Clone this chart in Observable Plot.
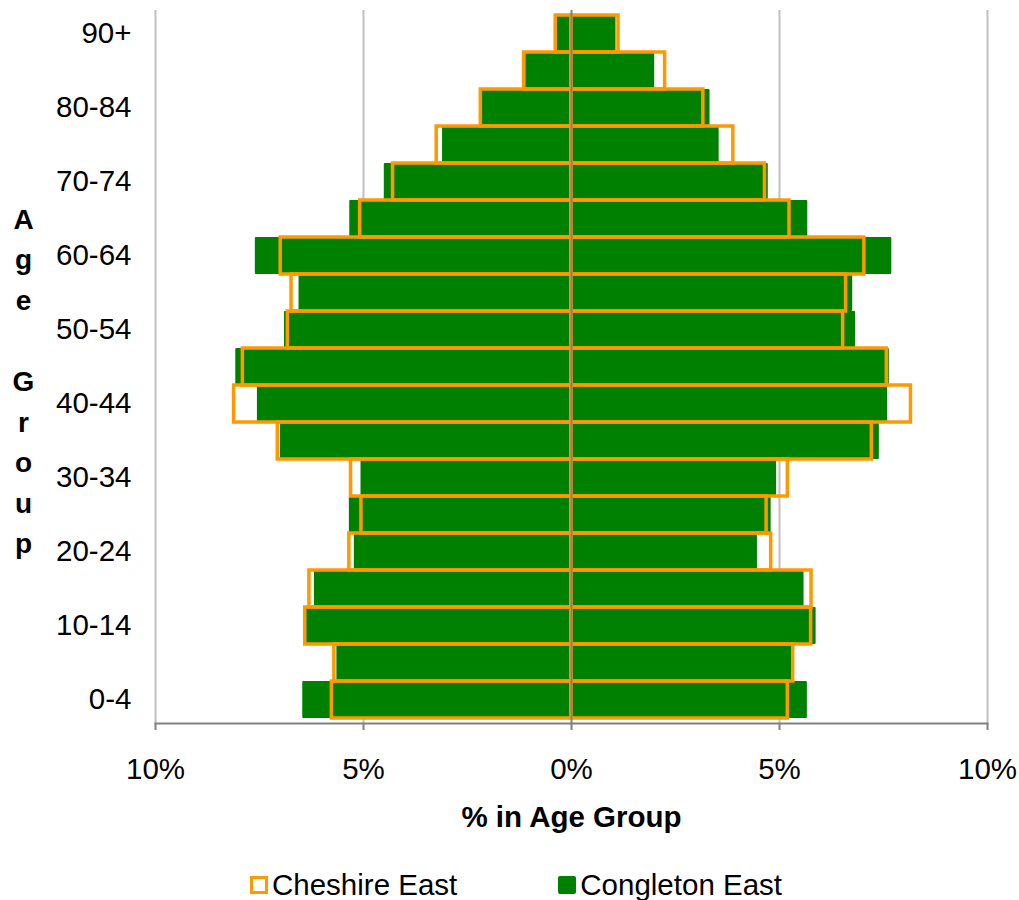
<!DOCTYPE html>
<html>
<head>
<meta charset="utf-8">
<script src="https://cdn.jsdelivr.net/npm/d3@7"></script>
<script src="https://cdn.jsdelivr.net/npm/@observablehq/plot@0.6"></script>
<style>
  html, body { margin: 0; padding: 0; background: #fff; }
  body { font-family: "Liberation Sans", Arial, sans-serif; width: 1019px; }
  #legend { display: flex; align-items: center; margin-top: 7px; padding-left: 250px; font-size: 29.5px; color: #000; line-height: 32px; }
  .item { display: flex; align-items: center; }
  .sw { width: 18px; height: 18px; box-sizing: border-box; margin-right: 4px; }
</style>
</head>
<body>
<div id="chart"></div>
<div id="legend">
  <div class="item"><div class="sw" style="border:3.5px solid #FF9900;background:#fff"></div><span>Cheshire East</span></div>
  <div class="item" style="margin-left:101px"><div class="sw" style="background:#008000;border-radius:2px"></div><span>Congleton East</span></div>
</div>
<script>
const ages = ["0-4","5-9","10-14","15-19","20-24","25-29","30-34","35-39","40-44","45-49","50-54","55-59","60-64","65-69","70-74","75-79","80-84","85-89","90+"];
// Values in %, bottom (0-4) to top (90+)
const congletonLeft  = [6.46,5.64,6.38,6.18,5.22,5.34,5.06,7.00,7.55,8.07,6.90,6.55,7.60,5.33,4.50,3.10,2.14,1.10,0.34];
const congletonRight = [5.67,5.30,5.88,5.59,4.47,4.80,4.93,7.40,7.60,7.64,6.83,6.76,7.70,5.68,4.73,3.55,3.33,2.00,1.07];
const cheshireLeft   = [5.76,5.70,6.40,6.30,5.34,5.05,5.30,7.06,8.11,7.90,6.82,6.73,6.99,5.08,4.29,3.24,2.18,1.14,0.38];
const cheshireRight  = [5.20,5.33,5.76,5.77,4.80,4.69,5.20,7.22,8.16,7.58,6.53,6.60,7.04,5.24,4.65,3.89,3.17,2.25,1.13];
const xTicks = [-10,-5,0,5,10];
const gridTicks = [-10,-5,5,10];
const yTicks = ages.filter((d,i) => i % 2 === 0);

const congleton = ages.flatMap((a,i) => [{age:a, v:-congletonLeft[i]}, {age:a, v:congletonRight[i]}]);
const cheshire  = ages.flatMap((a,i) => [{age:a, v:-cheshireLeft[i]}, {age:a, v:cheshireRight[i]}]);

const FS = 29.5;
const chart = Plot.plot({
  width: 1019,
  height: 862,
  marginLeft: 155,
  marginRight: 32,
  marginTop: 10,
  marginBottom: 139,
  style: { fontFamily: '"Liberation Sans", Arial, sans-serif', fontSize: FS + "px", color: "#000", background: "#fff" },
  x: { domain: [-10, 10] },
  y: { domain: ages.slice().reverse(), padding: 0 },
  marks: [
    Plot.ruleX(gridTicks, { stroke: "#c0c0c0", strokeWidth: 2 }),
    Plot.barX(congleton, { y: "age", x1: 0, x2: "v", fill: "#008000", rx: 1 }),
    Plot.barX(cheshire, { y: "age", x1: 0, x2: "v", fill: "none", stroke: "#FF9900", strokeWidth: 3.5 }),
    Plot.ruleX([0], { stroke: "#808080", strokeWidth: 2 }),
    Plot.frame({ anchor: "bottom", stroke: "#808080", strokeWidth: 2 }),
    Plot.axisY({ ticks: yTicks, tickSize: 0, tickPadding: 24, fontSize: FS, label: null }),
    Plot.axisX({ ticks: xTicks, tickFormat: d => Math.abs(d) + "%", tickSize: 7, tickPadding: 28, stroke: "#808080", strokeWidth: 2, fill: "#000", fontSize: FS, label: null }),
    Plot.text(["% in Age Group"], { frameAnchor: "bottom", dy: 103, fontWeight: "bold", fontSize: FS, fill: "#000" }),
    Plot.text(["A\ng\ne\n\nG\nr\no\nu\np"], { frameAnchor: "left", dx: -132, dy: 11, fontWeight: "bold", fontSize: 28, lineHeight: 1.45, textAnchor: "middle", fill: "#000" })
  ]
});
document.getElementById("chart").appendChild(chart);
</script>
</body>
</html>
